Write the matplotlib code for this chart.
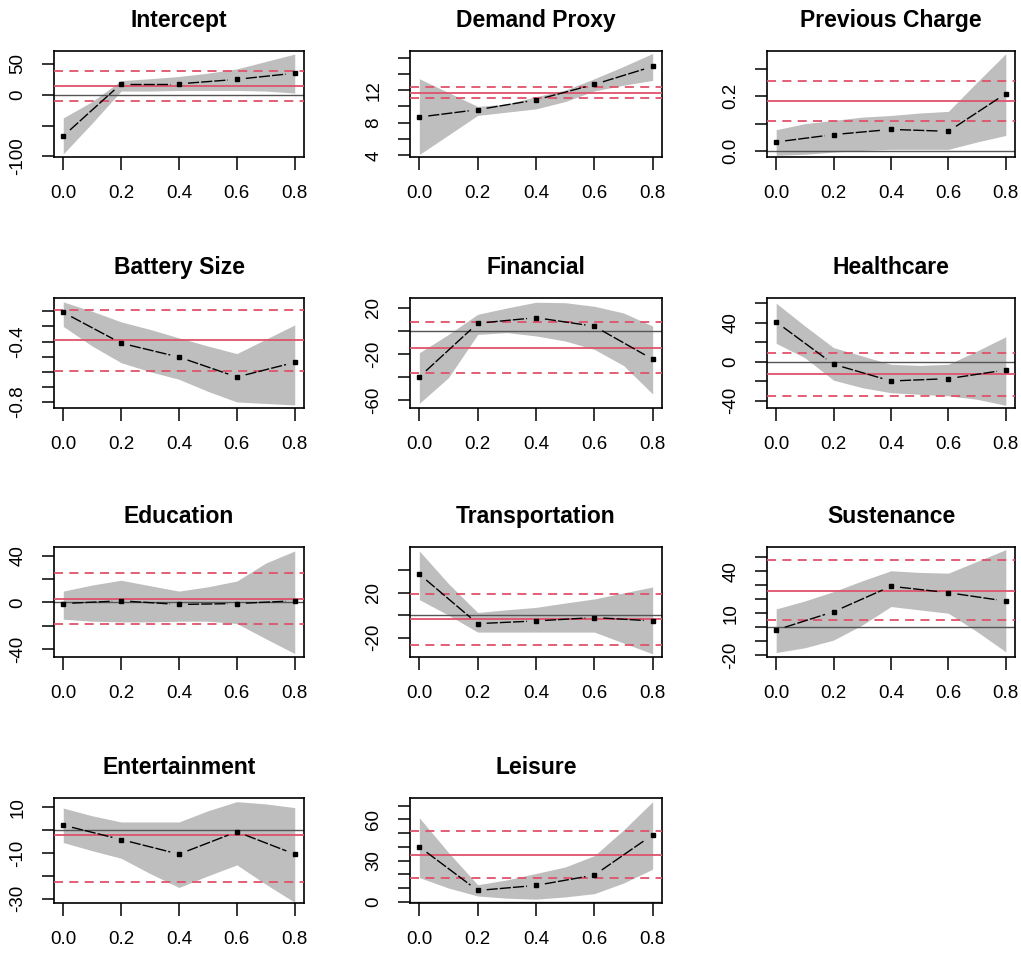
import numpy as np
import matplotlib.pyplot as plt

plt.rcParams['font.family'] = ['Liberation Sans', 'DejaVu Sans']

titles = ['Intercept', 'Demand Proxy', 'Previous Charge', 'Battery Size',
          'Financial', 'Healthcare', 'Education', 'Transportation',
          'Sustenance', 'Entertainment', 'Leisure']

x_pts = [0.0, 0.2, 0.4, 0.6, 0.8]
x_band = [0.0, 0.1, 0.2, 0.3, 0.4, 0.5, 0.6, 0.7, 0.8]

# estimates at each quantile
intercept_est = [-67, 17.7, 17.7, 25, 35]
demand_est = [8.7, 9.6, 10.8, 12.7, 14.9]
prevcharge_est = [0.033, 0.06, 0.079, 0.072, 0.21]
battery_est = [-0.207, -0.411, -0.503, -0.635, -0.538]
financial_est = [-40, 6.7, 11.6, 4.1, -24.6]
healthcare_est = [40.7, -2.7, -19.8, -17.4, -8.5]
education_est = [-0.9, 1.4, -1.7, -0.9, 1.4]
transport_est = [36.4, -7.5, -5.1, -2.1, -5.1]
sustenance_est = [-1.9, 11.2, 29.4, 24.8, 18.8]
entertain_est = [2.2, -4.1, -10.5, -0.7, -10.5]
leisure_est = [40, 8.2, 11.9, 19.4, 48.7]

# confidence band (upper / lower)
intercept_hi = [-37.6, -11, 23, 26, 29.6, 35, 42, 54, 66]
intercept_lo = [-96, -46, 6, 6, 7, 7, 7, 6, 2.7]
demand_hi = [13.4, 11.7, 10.0, 10.3, 11.2, 12.0, 13.4, 14.9, 16.5]
demand_lo = [4.1, 6.5, 8.9, 9.3, 9.7, 10.6, 11.9, 12.6, 13.2]
prevcharge_hi = [0.078, 0.1, 0.112, 0.124, 0.13, 0.139, 0.145, 0.252, 0.356]
prevcharge_lo = [-0.016, -0.012, -0.004, 0.002, 0.006, 0.006, 0.006, 0.033, 0.057]
battery_hi = [-0.138, -0.2, -0.27, -0.32, -0.376, -0.43, -0.48, -0.385, -0.29]
battery_lo = [-0.3, -0.43, -0.54, -0.6, -0.65, -0.73, -0.8, -0.81, -0.82]
financial_hi = [-19, -3, 14.5, 20, 25, 24.6, 21.5, 15.7, 4.3]
financial_lo = [-63, -40.6, -3, -1.4, -4.3, -8.7, -16, -30, -54.8]
healthcare_hi = [60, 36.6, 14.4, 5.8, -2.7, -3.8, -2.7, 11, 25.6]
healthcare_lo = [18.8, 4, -19, -26.7, -31.8, -33.5, -35, -38.6, -44.8]
education_hi = [9.7, 14.9, 19, 14.3, 9.7, 13.4, 18.3, 33.7, 44]
education_lo = [-14.3, -16, -16.6, -16.6, -16, -16, -18, -31, -43.7]
transport_hi = [57, 28, 2.4, 4.8, 6.9, 10.8, 14.4, 19.8, 25]
transport_lo = [13.8, 0, -15, -15, -15, -15, -15, -24.7, -34.3]
sustenance_hi = [13.2, 18.9, 25.6, 33.3, 40.5, 39.3, 38.8, 47.2, 55.6]
sustenance_lo = [-18, -14.6, -9.1, 1.7, 14.9, 12.5, 10.1, -3.1, -17.5]
entertain_hi = [9.7, 6.3, 3.6, 3.6, 3.6, 8.5, 12.5, 11.5, 9.9]
entertain_lo = [-5.4, -9, -12.3, -19, -25.1, -20, -15.2, -23.7, -31.6]
leisure_hi = [61.1, 35.8, 12.4, 15.9, 20.6, 25.3, 33.5, 52.2, 72.8]
leisure_lo = [17.6, 10, 4.2, 2.6, 1.9, 3.5, 5.9, 13.6, 23.7]

# OLS reference: estimate, lower, upper
ols_mean = [15, 11.7, 0.182, -0.393, -14.5, -13, 2.9, -3, 26.1, -2.2, 34]
ols_lo = [-10.8, 11.0, 0.109, -0.596, -36.2, -35.2, -18, -26.2, 5.3, -22.8, 17.6]
ols_hi = [38, 12.4, 0.255, -0.191, 7.8, 9.2, 25, 19, 47.9, 18.4, 51.8]

estimates = [intercept_est, demand_est, prevcharge_est, battery_est, financial_est,
             healthcare_est, education_est, transport_est, sustenance_est,
             entertain_est, leisure_est]
band_hi = [intercept_hi, demand_hi, prevcharge_hi, battery_hi, financial_hi,
           healthcare_hi, education_hi, transport_hi, sustenance_hi,
           entertain_hi, leisure_hi]
band_lo = [intercept_lo, demand_lo, prevcharge_lo, battery_lo, financial_lo,
           healthcare_lo, education_lo, transport_lo, sustenance_lo,
           entertain_lo, leisure_lo]

ylims = [(-101, 71), (3.8, 16.8), (-0.022, 0.366), (-0.84, -0.112),
         (-67, 28.7), (-47.5, 65.3), (-46.6, 47.4), (-37.1, 60.5),
         (-21.2, 57.5), (-31.9, 14.1), (-0.9, 75.5)]
yticks = [[-100, -50, 0, 50], [4, 6, 8, 10, 12, 14, 16], [0.0, 0.1, 0.2, 0.3],
          [-0.8, -0.7, -0.6, -0.5, -0.4, -0.3, -0.2], [-60, -40, -20, 0, 20],
          [-40, -20, 0, 20, 40, 60], [-40, -20, 0, 20, 40], [-20, 0, 20, 40],
          [-20, -10, 0, 10, 20, 30, 40, 50], [-30, -20, -10, 0, 10],
          [0, 10, 20, 30, 40, 50, 60, 70]]
ytick_labels = [['-100', '', '0', '50'], ['4', '', '8', '', '12', '', ''],
                ['0.0', '', '0.2', ''], ['-0.8', '', '', '', '-0.4', '', ''],
                ['-60', '', '-20', '', '20'], ['-40', '', '0', '', '40', ''],
                ['-40', '', '0', '', '40'], ['-20', '', '20', ''],
                ['-20', '', '', '10', '', '', '40', ''], ['-30', '', '-10', '', '10'],
                ['0', '', '', '30', '', '', '60', '']]

RED = '#DF536B'
W, H = 1021, 955
col_left = [54, 410, 767]
col_width = [250, 252, 248]
row_top = [51, 298, 547, 798]
row_height = [106, 110, 110, 105]


def gap_segments(ax, xs, ys, gap_px=9):
    # R type="b": segments between points, stopping short of each point
    pts = ax.transData.transform(np.column_stack([xs, ys]))
    inv = ax.transData.inverted()
    segs = []
    for p, q in zip(pts[:-1], pts[1:]):
        d = q - p
        n = np.hypot(*d)
        if n <= 2 * gap_px:
            continue
        u = d / n
        segs.append(inv.transform(np.array([p + u * gap_px, q - u * gap_px])))
    return segs


fig = plt.figure(figsize=(W / 100, H / 100), dpi=100)

for i, title in enumerate(titles):
    r, c = divmod(i, 3)
    ax = fig.add_axes([col_left[c] / W, 1 - (row_top[r] + row_height[r]) / H,
                       col_width[c] / W, row_height[r] / H])
    ax.set_xlim(-0.032, 0.832)
    ax.set_ylim(*ylims[i])

    ax.fill_between(x_band, band_lo[i], band_hi[i], color='#bebebe', lw=0, zorder=1)
    ax.axhline(0, color='#555555', lw=1.0, zorder=2)
    ax.axhline(ols_mean[i], color=RED, lw=1.3, zorder=3)
    ax.axhline(ols_lo[i], color=RED, lw=1.3, dashes=(5, 3.5), zorder=3)
    ax.axhline(ols_hi[i], color=RED, lw=1.3, dashes=(5, 3.5), zorder=3)

    for seg in gap_segments(ax, x_pts, estimates[i]):
        ax.plot(seg[:, 0], seg[:, 1], color='black', lw=1.0, dashes=(8, 1.5), zorder=4)
    ax.plot(x_pts, estimates[i], 's', color='black', ms=3, zorder=5)

    ax.set_xticks(x_pts)
    ax.set_xticklabels(['%.1f' % v for v in x_pts])
    ax.set_yticks(yticks[i])
    ax.set_yticklabels(ytick_labels[i], rotation=90, va='center')
    ax.tick_params(direction='out', length=9, width=1.1, labelsize=13.5,
                   pad=11, colors='black')
    for s in ax.spines.values():
        s.set_linewidth(1.2)
    ax.set_title(title, fontsize=16.5, fontweight='bold', pad=17)

fig.savefig('out.png', dpi=100)
